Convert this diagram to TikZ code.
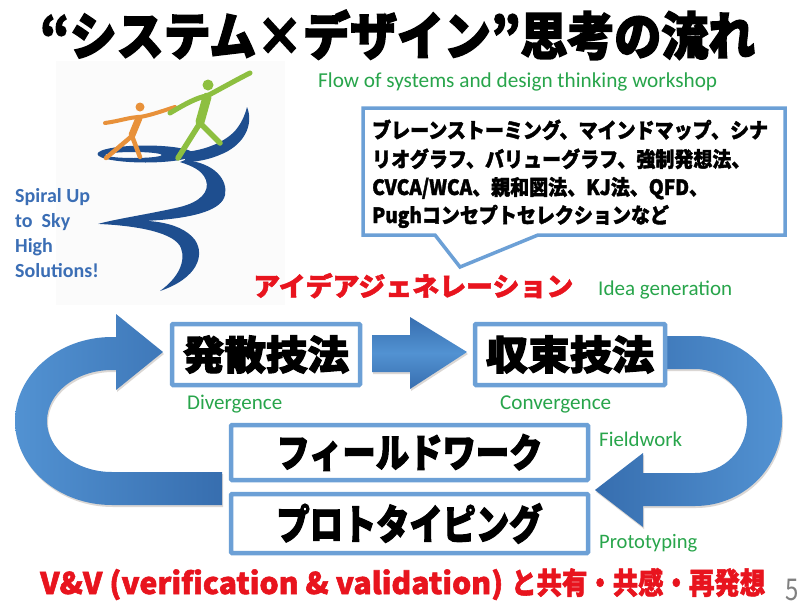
\documentclass[tikz,border=0pt]{standalone}
\usepackage{fontspec}
\usepackage{graphicx}
\usetikzlibrary{shadows}
\newfontfamily\jp{Noto Sans CJK JP}[BoldFeatures={FakeBold=1.8}]
\newfontfamily\jph{Noto Sans CJK JP}[BoldFeatures={FakeBold=3}]
\newfontfamily\calfont{Carlito}
\definecolor{boxblue}{RGB}{108,160,214}
\definecolor{arrowdark}{RGB}{55,110,175}
\definecolor{arrowlight}{RGB}{82,146,210}
\definecolor{jpred}{RGB}{232,20,30}
\definecolor{labelgreen}{RGB}{40,165,75}
\definecolor{logoblue}{RGB}{30,78,143}
\definecolor{logoorange}{RGB}{232,145,58}
\definecolor{logogreen}{RGB}{141,191,64}
\definecolor{slogan}{RGB}{59,110,181}
\begin{document}
\begin{tikzpicture}[x=1pt,y=-1pt,
  stepbox/.style={draw=boxblue, line width=4.5pt, fill=white, inner sep=0pt, rounded corners=1pt},
  blockarrow/.style={drop shadow={shadow xshift=1pt, shadow yshift=-2pt, opacity=0.18, fill=black!70!brown}},
  en/.style={text=labelgreen, font=\calfont, anchor=base west, inner sep=0pt},
  sl/.style={text=slogan, font=\calfont\bfseries\fontsize{20}{20}\selectfont, anchor=base west, inner sep=0pt},
  jpline/.style={anchor=base west, inner sep=0pt, font=\jp\bfseries\fontsize{21}{21}\selectfont},
  plain/.style={anchor=base west, inner sep=0pt}]
\useasboundingbox (0,0) rectangle (802,608);
\fill[white] (0,0) rectangle (802,608);

% title
\node[plain] (title) at (40,55) {\resizebox{715pt}{45pt}{\jph\bfseries “システム×デザイン”思考の流れ}};

% logo panel
\fill[gray!3] (56,61) rectangle (285,305);
% spiral
\fill[logoblue, even odd rule] (145.5,154) ellipse[x radius=48, y radius=8.5] (133.5,155) ellipse[x radius=28, y radius=3];
\fill[logoblue] (247,107) .. controls (253,122) and (247,140) .. (228,151) .. controls (215,158) and (200,162) .. (185,162)
  -- (185,152) .. controls (205,150) and (222,143) .. (233,133) .. controls (241,125) and (245,115) .. (247,107) -- cycle;
\fill[logoblue] (185,160) .. controls (215,163) and (228,180) .. (225,195) .. controls (222,210) and (195,217) .. (160,220)
  .. controls (130,222) and (110,224) .. (98,224) .. controls (115,219) and (150,214) .. (180,207)
  .. controls (200,202) and (210,192) .. (206,180) .. controls (202,170) and (192,166) .. (180,162) -- cycle;
\fill[logoblue] (100,224) .. controls (140,217) and (180,220) .. (195,240) .. controls (205,255) and (198,278) .. (160,291)
  .. controls (178,278) and (186,262) .. (181,248) .. controls (175,233) and (140,226) .. (100,224) -- cycle;
% figures
\fill[logoorange] (140,107) circle[radius=4.5];
\draw[logoorange, line width=7pt, line cap=round] (139,118) -- (132,135);
\draw[logoorange, line width=4pt, line cap=round] (105,123) .. controls (120,121) and (130,117) .. (140,117) .. controls (152,115) and (165,110) .. (175,107);
\draw[logoorange, line width=4.5pt, line cap=round, line join=round] (106,158) -- (132,136) -- (140,157);
\fill[logogreen] (208,85) circle[radius=5.5];
\draw[logogreen, line width=9pt, line cap=round] (207,97) -- (200,122);
\draw[logogreen, line width=5pt, line cap=round] (170,113) .. controls (185,104) and (198,97) .. (207,96) .. controls (222,88) and (238,79) .. (250,73);
\draw[logogreen, line width=5.5pt, line cap=round, line join=round] (178,158) -- (200,123) -- (220,143);

% slogan
\node[sl] (s1) at (15,202) {Spiral Up};
\node[sl] (s2) at (15,227) {to\ \ Sky};
\node[sl] (s3) at (15,252) {High};
\node[sl] (s4) at (15,277) {Solutions!};

% subtitle
\node[en] (flow) at (318,87) {\resizebox{399pt}{!}{Flow of systems and design thinking workshop}};

% callout with the list of methods
\path[draw=boxblue, line width=3.5pt, fill=white] (363,108) -- (785,108) -- (785,235) -- (538,235) -- (460,267) -- (435,235) -- (363,235) -- cycle;
\node[jpline] (c1) at (372,138) {\scalebox{0.905}[1]{ブレーンストーミング、マインドマップ、シナ}};
\node[jpline] (c2) at (372,167) {\scalebox{0.905}[1]{リオグラフ、バリューグラフ、強制発想法、}};
\node[jpline] (c3) at (372,195) {\scalebox{0.905}[1]{CVCA/WCA、親和図法、KJ法、QFD、}};
\node[jpline] (c4) at (372,223) {\scalebox{0.905}[1]{Pughコンセプトセレクションなど}};

% idea generation heading
\node[plain] (idea) at (253,296) {\resizebox{320pt}{23pt}{\jp\bfseries\color{jpred}アイデアジェネレーション}};
\node[en] (ideaen) at (598,295) {\resizebox{134pt}{!}{Idea generation}};

% block arrows
\path[blockarrow, left color=arrowlight, right color=arrowdark]
  (222,472) -- (112,472) arc[start angle=90, end angle=270, x radius=65, y radius=51]
  -- (116,370) -- (116,390) -- (163,352) -- (116,314) -- (116,337) -- (112,337)
  arc[start angle=270, end angle=90, x radius=97, y radius=84] -- (222,505) -- cycle;
\path[blockarrow, left color=arrowdark, right color=arrowlight]
  (660,336) -- (695,336) arc[start angle=270, end angle=450, x radius=87, y radius=85]
  -- (643,506) -- (643,527) -- (595,490) -- (643,453) -- (643,473) -- (695,473)
  arc[start angle=90, end angle=-90, x radius=52, y radius=52] -- (660,369) -- cycle;
\path[blockarrow, top color=arrowdark, bottom color=arrowdark, middle color=arrowlight]
  (372,335) -- (410,335) -- (410,317) -- (467,352) -- (410,389) -- (410,372) -- (372,372) -- cycle;

% process boxes
\node[stepbox, minimum width=188pt, minimum height=61pt] (div) at (266,354.5) {\resizebox{166pt}{34pt}{\jph\bfseries 発散技法}};
\node[stepbox, minimum width=190pt, minimum height=61pt] (conv) at (570,354.5) {\resizebox{168pt}{34pt}{\jph\bfseries 収束技法}};
\node[stepbox, minimum width=357pt, minimum height=55pt] (field) at (409.5,452.5) {\resizebox{266pt}{33pt}{\jph\bfseries フィールドワーク}};
\node[stepbox, minimum width=357pt, minimum height=59pt] (proto) at (409.5,523.5) {\resizebox{266pt}{36pt}{\jph\bfseries プロトタイピング}};

% english labels
\node[en] (diven) at (187,409) {\resizebox{95pt}{!}{Divergence}};
\node[en] (conven) at (500,409) {\resizebox{111pt}{!}{Convergence}};
\node[en] (fielden) at (599,446) {\resizebox{83pt}{!}{Fieldwork}};
\node[en] (protoen) at (599,548) {\resizebox{98pt}{!}{Prototyping}};

% closing line and page number
\node[plain] (vv) at (40,594) {\resizebox{463pt}{25pt}{\jp\bfseries\color{jpred}V\&V (verification \& validation)}};
\node[plain] (vvjp) at (511,594) {\resizebox{254pt}{26pt}{\jp\bfseries\color{jpred}と共有・共感・再発想}};
\node[anchor=base, inner sep=0pt, text=gray] (page) at (792,600) {\scalebox{0.8}[1]{\jp\fontsize{30}{30}\selectfont 5}};
\end{tikzpicture}
\end{document}
